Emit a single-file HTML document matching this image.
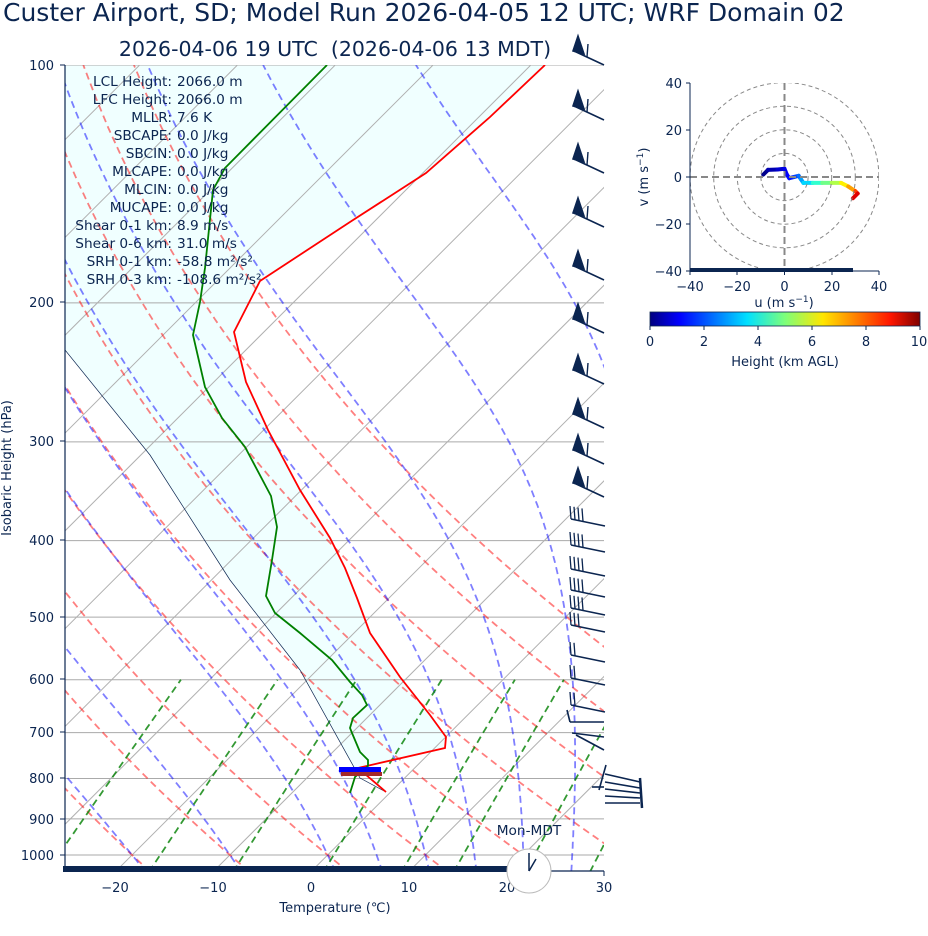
<!DOCTYPE html>
<html><head><meta charset="utf-8"><style>
body{margin:0;background:#fff;}
svg{display:block;font-family:"DejaVu Sans","Liberation Sans",sans-serif;}
</style></head><body>
<svg id="s" width="928" height="936" viewBox="0 0 928 936" xmlns="http://www.w3.org/2000/svg">
<defs><clipPath id="cp"><rect x="65" y="65" width="539" height="806"/></clipPath>
<linearGradient id="jet" x1="0" x2="1" y1="0" y2="0">
<stop offset="0" stop-color="#00007f"/><stop offset="0.11" stop-color="#0000ff"/><stop offset="0.36" stop-color="#00e0ff"/><stop offset="0.5" stop-color="#7dff7a"/><stop offset="0.64" stop-color="#ffe600"/><stop offset="0.89" stop-color="#ff1600"/><stop offset="1" stop-color="#7f0000"/></linearGradient></defs>
<g id="bg" clip-path="url(#cp)"></g>
<g id="fg" clip-path="url(#cp)"></g>
<g id="barbs" stroke="#0b2550" stroke-width="1.6" fill="#0b2550"></g>
<g id="hodo"></g>
<line x1="65" y1="65" x2="65" y2="872" stroke="#0b2550" stroke-width="1.2"/>
<rect x="63" y="866" width="444" height="6" fill="#0b2550"/>
<line x1="507" y1="871" x2="604" y2="871" stroke="#0b2550" stroke-width="1.2"/>
<line x1="604" y1="871" x2="604" y2="876" stroke="#0b2550"/>
<g fill="#0b2550" font-size="13" text-anchor="end">
<text x="54" y="70">100</text><text x="54" y="307">200</text><text x="54" y="446">300</text>
<text x="54" y="545">400</text><text x="54" y="622">500</text><text x="54" y="684">600</text>
<text x="54" y="737">700</text><text x="54" y="783">800</text><text x="54" y="824">900</text><text x="54" y="860">1000</text>
</g>
<g stroke="#0b2550"><line x1="60" y1="65" x2="65" y2="65"/><line x1="60" y1="302" x2="65" y2="302"/><line x1="60" y1="441" x2="65" y2="441"/><line x1="60" y1="540" x2="65" y2="540"/><line x1="60" y1="617" x2="65" y2="617"/><line x1="60" y1="679" x2="65" y2="679"/><line x1="60" y1="732" x2="65" y2="732"/><line x1="60" y1="778" x2="65" y2="778"/><line x1="60" y1="819" x2="65" y2="819"/><line x1="60" y1="855" x2="65" y2="855"/></g>
<g fill="#0b2550" font-size="13" text-anchor="middle">
<text x="115" y="892">−20</text><text x="213" y="892">−10</text><text x="311" y="892">0</text><text x="409" y="892">10</text><text x="507" y="892">20</text><text x="604" y="892">30</text>
<text x="335" y="912">Temperature (℃)</text>
<text transform="translate(11,468) rotate(-90)">Isobaric Height (hPa)</text>
</g>
<text x="3" y="21" font-size="25" fill="#0b2550">Custer Airport, SD; Model Run 2026-04-05 12 UTC; WRF Domain 02</text>
<text x="335" y="56" font-size="20.5" fill="#0b2550" text-anchor="middle" xml:space="preserve">2026-04-06 19 UTC  (2026-04-06 13 MDT)</text>
<g font-size="13.7" fill="#0b2550">
<g text-anchor="end">
<text x="172" y="86">LCL Height:</text><text x="172" y="104">LFC Height:</text><text x="172" y="122">MLLR:</text>
<text x="172" y="140">SBCAPE:</text><text x="172" y="158">SBCIN:</text><text x="172" y="176">MLCAPE:</text>
<text x="172" y="194">MLCIN:</text><text x="172" y="212">MUCAPE:</text><text x="172" y="230">Shear 0-1 km:</text>
<text x="172" y="248">Shear 0-6 km:</text><text x="172" y="266">SRH 0-1 km:</text><text x="172" y="284">SRH 0-3 km:</text></g>
<g>
<text x="177" y="86">2066.0 m</text><text x="177" y="104">2066.0 m</text><text x="177" y="122">7.6 K</text>
<text x="177" y="140">0.0 J/kg</text><text x="177" y="158">0.0 J/kg</text><text x="177" y="176">0.0 J/kg</text>
<text x="177" y="194">0.0 J/kg</text><text x="177" y="212">0.0 J/kg</text><text x="177" y="230">8.9 m/s</text>
<text x="177" y="248">31.0 m/s</text><text x="177" y="266">-58.8 m²/s²</text><text x="177" y="284">-108.6 m²/s²</text></g>
<text x="529" y="835" text-anchor="middle">Mon-MDT</text>
</g>
<circle cx="529" cy="871" r="22" fill="#fff" stroke="#bbb"/>
<line x1="529" y1="871" x2="529" y2="853" stroke="#0b2550" stroke-width="1.5"/>
<line x1="529" y1="871" x2="536" y2="859" stroke="#0b2550" stroke-width="1.5"/>
<g stroke="#888" stroke-dasharray="4,3" fill="none">
<circle cx="784.5" cy="177" r="23.6"/><circle cx="784.5" cy="177" r="47.2"/><circle cx="784.5" cy="177" r="70.8"/><circle cx="784.5" cy="177" r="94.4"/></g>
<rect x="606" y="60" width="84" height="240" fill="#fff"/>
<rect x="879" y="60" width="49" height="240" fill="#fff"/>
<rect x="680" y="50" width="210" height="33" fill="#fff"/>
<rect x="680" y="271" width="210" height="30" fill="#fff"/>
<g stroke="#888" stroke-width="2" stroke-dasharray="7,4"><line x1="690" y1="177" x2="879" y2="177"/><line x1="784.5" y1="83" x2="784.5" y2="271"/></g>
<line x1="690" y1="83" x2="690" y2="271" stroke="#0b2550"/>
<line x1="690" y1="271" x2="879" y2="271" stroke="#0b2550"/>
<rect x="690" y="268" width="163" height="4" fill="#0b2550"/>
<g stroke="#0b2550"><line x1="686" y1="83" x2="690" y2="83"/><line x1="686" y1="130" x2="690" y2="130"/><line x1="686" y1="177" x2="690" y2="177"/><line x1="686" y1="224" x2="690" y2="224"/><line x1="686" y1="271" x2="690" y2="271"/>
<line x1="737" y1="271" x2="737" y2="275"/><line x1="784.5" y1="271" x2="784.5" y2="275"/><line x1="832" y1="271" x2="832" y2="275"/><line x1="879" y1="271" x2="879" y2="275"/><line x1="690" y1="271" x2="690" y2="275"/></g>
<g font-size="13" fill="#0b2550" text-anchor="end"><text x="682" y="88">40</text><text x="682" y="135">20</text><text x="682" y="182">0</text><text x="682" y="229">−20</text><text x="682" y="276">−40</text></g>
<g font-size="13" fill="#0b2550" text-anchor="middle"><text x="690" y="291">−40</text><text x="737" y="291">−20</text><text x="784.5" y="291">0</text><text x="832" y="291">20</text><text x="879" y="291">40</text>
<text x="784" y="307">u (m s<tspan font-size="9" dy="-5">−1</tspan><tspan dy="5">)</tspan></text>
<text transform="translate(648,177) rotate(-90)">v (m s<tspan font-size="9" dy="-5">−1</tspan><tspan dy="5">)</tspan></text>
<text x="650" y="346">0</text><text x="704" y="346">2</text><text x="758" y="346">4</text><text x="812" y="346">6</text><text x="866" y="346">8</text><text x="919" y="346">10</text>
<text x="785" y="366">Height (km AGL)</text></g>
<rect x="650" y="312" width="270" height="14" fill="url(#jet)" stroke="#0b2550" stroke-width="0.8"/>
<g stroke="#0b2550"><line x1="650" y1="326" x2="650" y2="330"/><line x1="704" y1="326" x2="704" y2="330"/><line x1="758" y1="326" x2="758" y2="330"/><line x1="812" y1="326" x2="812" y2="330"/><line x1="866" y1="326" x2="866" y2="330"/><line x1="920" y1="326" x2="920" y2="330"/></g>
</svg>
<script>
(function(){
var NS="http://www.w3.org/2000/svg";
function el(parent,tag,attrs){var e=document.createElementNS(NS,tag);for(var k in attrs)e.setAttribute(k,attrs[k]);parent.appendChild(e);return e;}
var bg=document.getElementById('bg'),fg=document.getElementById('fg');
function Y(p){return 65+790*Math.log10(p/100);}
function X(T,p){return 311+9.78*T+(871.7-Y(p));}
function path(g,pts,st){var d='';pts.forEach(function(q,i){d+=(i?'L':'M')+q[0].toFixed(1)+' '+q[1].toFixed(1);});st.d=d;st.fill=st.fill||'none';el(g,'path',st);}
var red=[[386,792],[358,768],[445,748],[446,737],[430,715],[400,677],[370,633],[357,598],[345,568],[330,538],[300,490],[268,430],[246,382],[234,332],[260,281],[350,222],[426,173],[490,117],[545,65]];
var shade=[[360,778],[300,670],[230,580],[150,455],[65,350],[65,65],[545,65]];
var r2=red.slice(2).reverse();shade=shade.concat(r2).concat([[368,767]]);
path(bg,shade,{fill:'#f0ffff',stroke:'none'});
[100,200,300,400,500,600,700,800,900,1000].forEach(function(p){el(bg,'line',{x1:65,x2:604,y1:Y(p),y2:Y(p),stroke:'#aaa','stroke-width':1});});
for(var T=-120;T<=40;T+=10){var x0=X(T,1050);el(bg,'line',{x1:x0,y1:871.7,x2:x0+900,y2:871.7-900,stroke:'#b0b0b0','stroke-width':1});}
var ps=[];for(var p=1050;p>=100;p-=10)ps.push(p);
var dash={'stroke-width':1.8,'stroke-dasharray':'7,4.5','stroke-opacity':0.5};
function sty(c){var o={stroke:c};for(var k in dash)o[k]=dash[k];return o;}
for(var th=-30;th<=60;th+=10){var K=th+273.15;path(bg,ps.map(function(p){return [X(K*Math.pow(p/1000,0.2857)-273.15,p),Y(p)];}),sty('#ff0000'));}
function es(Tc){return 6.112*Math.exp(17.67*Tc/(Tc+243.5));}
function dTdp(T,p){var Tc=T-273.15,e=es(Tc),rs=0.622*e/(p-e),Lv=2.501e6,Rd=287.04,cp=1005.7;return (Rd*T+Lv*rs)/(cp+Lv*Lv*rs*0.622/(Rd*T*T))/p;}
[-30,-20,-10,0,5,10,15,20,25,30].forEach(function(t0){
 var T=t0+273.15,p,up=[];
 for(p=1000;p>=100;p-=5){up.push([X(T-273.15,p),Y(p)]);T-=dTdp(T,p-2.5)*5;}
 T=t0+273.15;var dn=[];for(p=1000;p<=1050;p+=5){dn.push([X(T-273.15,p),Y(p)]);T+=dTdp(T,p+2.5)*5;}
 path(bg,dn.reverse().concat(up),sty('#0000ff'));});
[0.0004,0.001,0.002,0.004,0.007,0.01,0.016,0.024,0.032].forEach(function(w){var pts=[];for(var p=1050;p>=600;p-=10){var e=w*p/(0.622+w),l=Math.log(e/6.112),Td=243.5*l/(17.67-l);pts.push([X(Td,p),Y(p)]);}
 var s=sty('#008000');s['stroke-opacity']=0.8;path(bg,pts,s);});
path(fg,[[386,792],[360,778],[300,670],[230,580],[150,455],[65,350]],{stroke:'#0b2550','stroke-width':0.7});
path(fg,red,{stroke:'#ff0000','stroke-width':1.8});
var green=[[350,793],[355,777],[368,766],[368,760],[360,752],[352,733],[350,728],[353,718],[367,705],[362,695],[350,682],[332,660],[300,633],[275,613],[266,596],[272,560],[277,527],[271,496],[245,447],[222,418],[205,387],[193,335],[200,302],[205,268],[213,190],[225,168],[327,65]];
path(fg,green,{stroke:'#008000','stroke-width':1.8});
el(fg,'rect',{x:339,y:767,width:42,height:5,fill:'#0000ff'});
el(fg,'rect',{x:341,y:772,width:41,height:4,fill:'#a52a2a'});
var bb=document.getElementById('barbs');
[65,120,173,227,280,333,384,428,464,497].forEach(function(y){
 el(bb,'line',{x1:604,y1:y,x2:574,y2:y-14});
 el(bb,'polygon',{points:'573,'+(y-14)+' 578,'+(y-29)+' 584,'+(y-11)});
 el(bb,'line',{x1:587,y1:y-8,x2:588,y2:y-21,'stroke-width':1.4});
});
var low=[[526,4],[552,4],[576,4],[597,4],[615,4],[632,3],[662,2],[685,2],[712,2]];
low.forEach(function(a){var y=a[0];el(bb,'line',{x1:605,y1:y,x2:571,y2:y-7});
 for(var i=0;i<a[1];i++){var x=571+i*4,yy=y-7+i*0.8;el(bb,'line',{x1:x,y1:yy,x2:x-1,y2:yy-13,'stroke-width':1.3});}});
el(bb,'line',{x1:604,y1:722,x2:570,y2:722});el(bb,'line',{x1:570,y1:722,x2:567,y2:710});
el(bb,'line',{x1:604,y1:737,x2:572,y2:733});el(bb,'line',{x1:604,y1:750,x2:576,y2:735});
[[779],[785],[790],[795],[800]].forEach(function(a,i){el(bb,'line',{x1:605,y1:a[0]-5+i*2,x2:640,y2:a[0]+3});});
el(bb,'line',{x1:640,y1:778,x2:642,y2:808,'stroke-width':2.5});
el(bb,'line',{x1:606,y1:765,x2:599,y2:790});el(bb,'line',{x1:592,y1:787,x2:604,y2:787});
var hg=document.getElementById('hodo');
var hp=[[-9,1],[-7,3],[-3,3.2],[0,3.5],[1,1],[2,-0.5],[4,0],[6,0.5],[7,-1],[8,-2.5],[12,-2.5],[16,-2.5],[20,-2.5],[24,-2.5],[27,-4],[30,-6],[31,-7],[29,-9]];
var cols=['#00008b','#0000b0','#0000d0','#0000ee','#0000ff','#0010ff','#0040ff','#0070ff','#00a0ff','#00d8ff','#30ffcf','#70ff88','#b0ff48','#fff000','#ffa000','#ff4000','#e00000','#b00000'];
for(var i=0;i<hp.length-1;i++){el(hg,'line',{x1:784.5+hp[i][0]*2.36,y1:177-hp[i][1]*2.36,x2:784.5+hp[i+1][0]*2.36,y2:177-hp[i+1][1]*2.36,stroke:cols[i],'stroke-width':4,'stroke-linecap':'round'});}
})();
</script>
</body></html>
